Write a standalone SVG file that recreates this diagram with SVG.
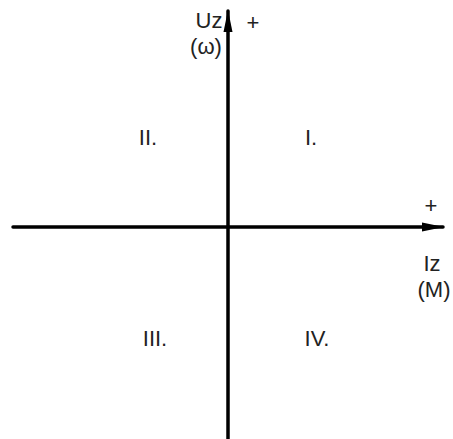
<svg xmlns="http://www.w3.org/2000/svg" width="453" height="439" viewBox="0 0 453 439">
<style>
text{font-family:"Liberation Sans",Arial,sans-serif;font-size:22px;fill:#222}
.ax{stroke:#000;stroke-width:3.5;fill:none;stroke-linecap:round}
</style>
<defs>
<marker id="ah" markerWidth="22" markerHeight="10" refX="21" refY="5" orient="auto" markerUnits="userSpaceOnUse">
<path d="M0,0.5 L22,5 L0,9.5 Z" fill="#000"/>
</marker>
</defs>
<rect width="453" height="439" fill="#fff"/>
<g id="connectors">
<line class="ax" x1="13" y1="227" x2="443" y2="227" marker-end="url(#ah)"/>
<line class="ax" x1="228" y1="439" x2="228" y2="11" marker-end="url(#ah)"/>
</g>
<g id="labels">
<text x="209" y="28" text-anchor="middle">Uz</text>
<text x="206" y="54" text-anchor="middle">(ω)</text>
<text x="253" y="30" text-anchor="middle">+</text>
<text x="148" y="145" text-anchor="middle">II.</text>
<text x="311" y="145" text-anchor="middle">I.</text>
<text x="431" y="213" text-anchor="middle">+</text>
<text x="432" y="271" text-anchor="middle">Iz</text>
<text x="434" y="297" text-anchor="middle">(M)</text>
<text x="155" y="346" text-anchor="middle">III.</text>
<text x="317" y="346" text-anchor="middle">IV.</text>
</g>
</svg>
